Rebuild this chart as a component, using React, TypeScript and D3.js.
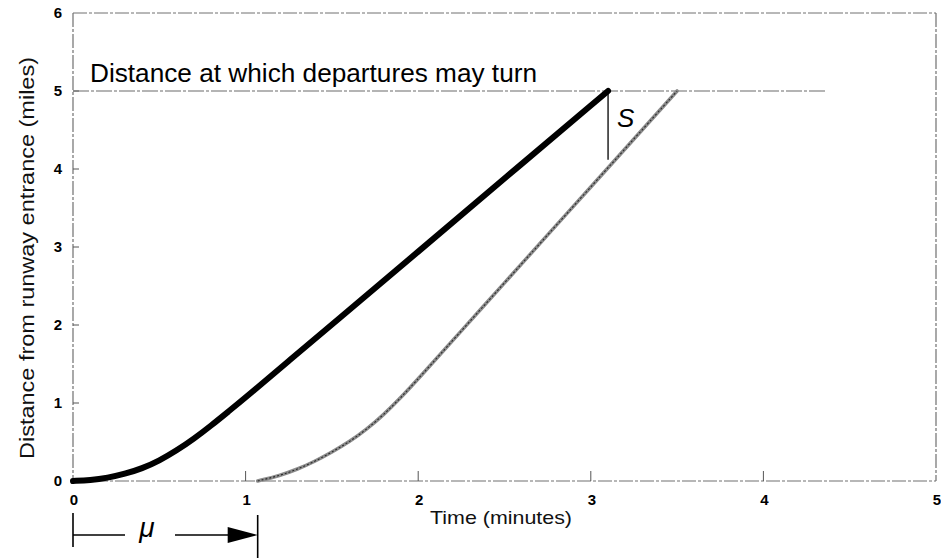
import React from "react";
import * as d3 from "d3";

const xTicks = [0, 1, 2, 3, 4, 5];
const yTicks = [0, 1, 2, 3, 4, 5, 6];

const leadTime = [0, 0.1, 0.2, 0.3, 0.4, 0.5, 0.6, 0.7, 0.8, 0.9, 1.0, 1.25, 1.5, 2.0, 2.5, 3.1];
const leadDist = [0, 0.01, 0.04, 0.09, 0.16, 0.26, 0.39, 0.54, 0.71, 0.89, 1.07, 1.54, 2.005, 2.94, 3.88, 5.0];

const trailTime = [1.07, 1.2, 1.3, 1.4, 1.5, 1.6, 1.7, 1.8, 1.9, 2.0, 2.25, 2.5, 2.75, 3.0, 3.25, 3.5];
const trailDist = [0, 0.07, 0.15, 0.25, 0.37, 0.5, 0.66, 0.85, 1.07, 1.31, 1.925, 2.54, 3.155, 3.77, 4.385, 5.0];

const turnDistance = 5;
const turnLineEnd = 4.36;
const sTime = 3.1;
const sBottom = 4.12;
const muTime = 1.07;

const W = 941;
const H = 558;

export default function App() {
  const x = d3.scaleLinear().domain([0, 5]).range([73, 936]);
  const y = d3.scaleLinear().domain([0, 6]).range([481, 13]);

  const line = d3
    .line<[number, number]>()
    .x((d) => x(d[0]))
    .y((d) => y(d[1]))
    .curve(d3.curveBasis);

  const lead = line(leadTime.map((t, i) => [t, leadDist[i]] as [number, number])) || "";
  const trail = line(trailTime.map((t, i) => [t, trailDist[i]] as [number, number])) || "";

  const axisStroke = "#707070";
  const dash = "14,2,3,2";
  const font = "Liberation Sans, Arial, Helvetica, sans-serif";

  const muX = x(muTime);

  return (
    <svg
      width={W}
      height={H}
      viewBox={`0 0 ${W} ${H}`}
      style={{ position: "absolute", left: 0, top: 0, background: "#fff" }}
      fontFamily={font}
    >
      {/* frame */}
      <line x1={x(0)} x2={x(5)} y1={y(6)} y2={y(6)} stroke={axisStroke} strokeWidth={1} strokeDasharray={dash} />
      <line x1={x(5)} x2={x(5)} y1={y(6)} y2={y(0)} stroke={axisStroke} strokeWidth={1.2} strokeDasharray={dash} />
      <line x1={x(0)} x2={x(5)} y1={y(0)} y2={y(0)} stroke={axisStroke} strokeWidth={1.2} strokeDasharray={dash} />
      <line x1={x(0)} x2={x(0)} y1={y(6)} y2={y(0)} stroke={axisStroke} strokeWidth={1.2} strokeDasharray={dash} />

      {/* ticks */}
      {xTicks.slice(1, 5).map((t) => (
        <line key={"xt" + t} x1={x(t)} x2={x(t)} y1={y(0)} y2={y(0) - 10} stroke="#555" strokeWidth={1} />
      ))}
      {yTicks.slice(1, 6).map((t) => (
        <line key={"yt" + t} x1={x(0)} x2={x(0) + 6} y1={y(t)} y2={y(t)} stroke="#555" strokeWidth={1} />
      ))}

      {/* tick labels */}
      {xTicks.map((t) => (
        <text key={"xl" + t} x={x(t) + 1} y={y(0) + 24} textAnchor="middle" fontSize={15} fontWeight="bold" fill="#000">
          {t}
        </text>
      ))}
      {yTicks.map((t) => (
        <text key={"yl" + t} x={62} y={y(t) + 5} textAnchor="end" fontSize={15} fontWeight="bold" fill="#000">
          {t}
        </text>
      ))}

      {/* axis titles */}
      <text x={501} y={524} textAnchor="middle" fontSize={19} fill="#111" textLength={142} lengthAdjust="spacingAndGlyphs">
        Time (minutes)
      </text>
      <text
        transform={`translate(34, 258) rotate(-90)`}
        textAnchor="middle"
        fontSize={20}
        fill="#111"
        textLength={402}
        lengthAdjust="spacingAndGlyphs"
      >
        Distance from runway entrance (miles)
      </text>

      {/* turn distance line */}
      <line
        x1={x(0)}
        x2={x(turnLineEnd)}
        y1={y(turnDistance)}
        y2={y(turnDistance)}
        stroke="#6a6a6a"
        strokeWidth={1.2}
        strokeDasharray="16,2,3,2"
      />
      <text x={90} y={82} fontSize={25} fill="#000" textLength={447} lengthAdjust="spacingAndGlyphs">
        Distance at which departures may turn
      </text>

      {/* curves */}
      <path d={trail} fill="none" stroke="#8c8c8c" strokeWidth={3.6} strokeLinecap="round" />
      <path d={trail} fill="none" stroke="#2a2a2a" strokeWidth={1.1} strokeDasharray="2,2" />
      <path d={lead} fill="none" stroke="#000" strokeWidth={6} strokeLinecap="round" strokeLinejoin="round" />

      {/* S separation */}
      <line x1={x(sTime)} x2={x(sTime)} y1={y(turnDistance)} y2={y(sBottom)} stroke="#000" strokeWidth={1.3} />
      <text x={617} y={127} fontSize={26} fontStyle="italic" fill="#000">
        S
      </text>

      {/* mu bracket */}
      <line x1={x(0)} x2={x(0)} y1={513} y2={547} stroke="#000" strokeWidth={1.6} />
      <line x1={x(0)} x2={125} y1={535} y2={535} stroke="#000" strokeWidth={1.6} />
      <text x={147} y={537} textAnchor="middle" fontSize={28} fontStyle="italic" fill="#000">
        μ
      </text>
      <line x1={175} x2={236} y1={535} y2={535} stroke="#000" strokeWidth={1.6} />
      <path d={`M${muX - 30},527 L${muX},535 L${muX - 30},543 Z`} fill="#000" />
      <line x1={muX} x2={muX} y1={515} y2={558} stroke="#000" strokeWidth={1.6} />
    </svg>
  );
}
